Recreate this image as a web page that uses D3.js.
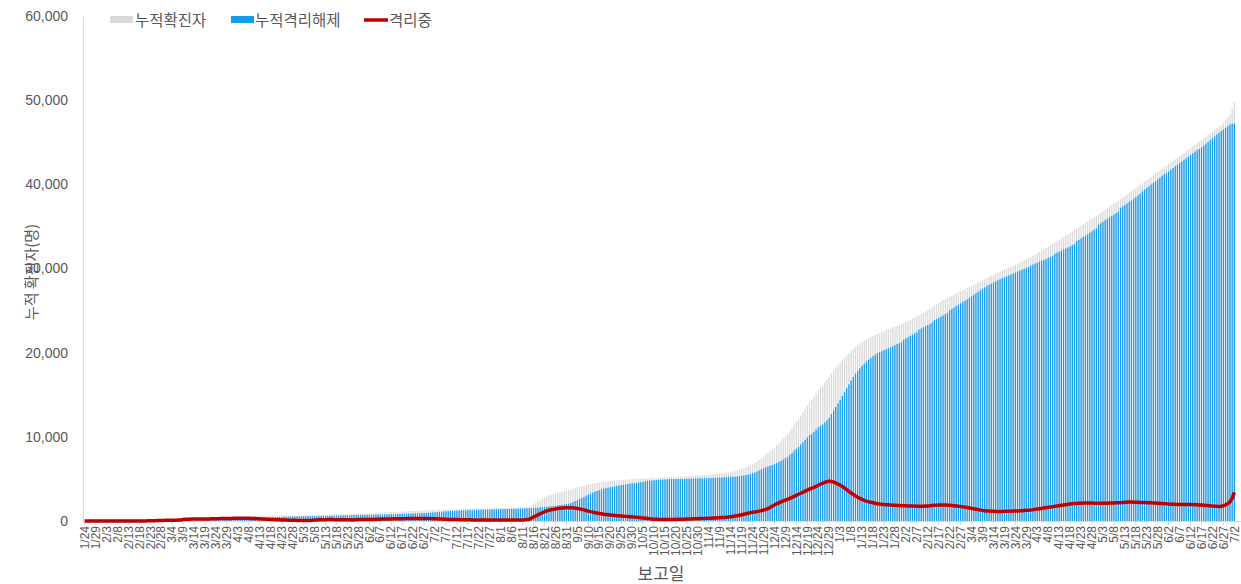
<!DOCTYPE html>
<html>
<head>
<meta charset="utf-8">
<script src="https://cdn.jsdelivr.net/npm/d3@7"></script>
<style>
  body { margin: 0; background: #fff; }
  svg { display: block; font-family: "Noto Sans CJK KR", "Noto Sans", sans-serif; }
</style>
</head>
<body>
<svg width="1241" height="584"></svg>
<script>
// daily categories 2020-01-24 .. 2021-07-02
const firstDay = new Date(2020, 0, 24);
const lastDay = new Date(2021, 6, 2);

// 누적확진자 (cumulative confirmed), one value per day
const confirmed = [
  1,1,1,1,1,3,4,5, // Jan 20
  6,7,7,7,8,9,10,10,10,10,11,11,11,11,12,12,13,14,14,15,17,21,27,35,44,51,60,70,78,
  87,91,98,103,108,116,129,141,193,225,246,252,265,270,278,287,297,310,320,324,334,347,356,372,390,410,426,435,445,450,474,
  490,513,528,552,563,567,573,580,587,595,601,604,607,610,613,616,619,620,622,623,625,627,627,628,628,629,631,632,633,633,
  634,635,637,637,638,650,670,692,715,740,749,759,767,775,782,788,793,798,800,805,810,815,820,825,830,845,865,880,890,900,905,
  915,925,935,945,965,975,990,1005,1020,1030,1045,1060,1075,1090,1105,1120,1135,1150,1165,1175,1185,1195,1205,1215,1225,1240,1255,1265,1280,1290,
  1300,1310,1320,1330,1340,1350,1360,1370,1380,1390,1400,1410,1418,1425,1430,1435,1440,1445,1450,1455,1460,1465,1470,1475,1480,1490,1500,1510,1520,1525,1530,
  1535,1540,1545,1550,1560,1570,1580,1590,1600,1610,1620,1640,1680,1730,1880,2030,2180,2330,2480,2620,2760,2900,3000,3090,3180,3270,3350,3420,3480,3540,3590,
  3650,3730,3820,3900,3980,4050,4120,4190,4260,4320,4380,4430,4480,4530,4580,4620,4660,4700,4730,4760,4790,4815,4840,4860,4880,4900,4925,4950,4970,4990,
  5000,5015,5030,5040,5050,5060,5070,5085,5100,5110,5120,5130,5140,5155,5170,5185,5200,5210,5220,5235,5250,5265,5280,5295,5310,5330,5350,5370,5390,5410,5430,
  5440,5460,5480,5500,5520,5540,5560,5590,5620,5650,5690,5730,5770,5820,5870,5930,6000,6080,6170,6280,6400,6520,6640,6770,6910,7070,7250,7440,7640,7850,
  8050,8250,8500,8750,9000,9250,9500,9800,10050,10300,10650,11000,11400,11750,12100,12500,12900,13300,13700,14100,14400,14750,15150,15550,15850,16100,16450,16800,17150,17550,17900,
  18250,18550,18850,19150,19450,19700,19950,20200,20450,20700,20900,21080,21250,21420,21580,21720,21860,21990,22120,22250,22360,22460,22560,22660,22760,22860,22960,23060,23160,23270,23380,
  23500,23640,23780,23920,24060,24200,24340,24480,24620,24760,24900,25050,25200,25400,25600,25750,25900,26050,26200,26340,26480,26620,26760,26900,27040,27180,27300,27420,
  27550,27680,27810,27940,28070,28200,28330,28460,28590,28720,28850,28980,29110,29240,29370,29500,29620,29740,29860,29980,30100,30220,30340,30460,30590,30720,30850,30980,31110,31240,31380,
  31530,31680,31830,31980,32130,32280,32430,32590,32750,32910,33070,33230,33390,33550,33720,33890,34060,34230,34400,34570,34740,34910,35080,35250,35420,35590,35760,35930,36100,36270,
  36450,36630,36810,36990,37170,37350,37530,37710,37890,38070,38250,38430,38610,38800,38990,39180,39370,39560,39750,39940,40130,40320,40510,40700,40890,41080,41270,41460,41650,41840,42030,
  42220,42410,42600,42790,42980,43170,43360,43550,43740,43930,44120,44310,44500,44690,44880,45070,45260,45450,45640,45830,46020,46220,46420,46620,46820,47050,47300,47600,47950,48350,
  48950,49700 // Jul 21
];

// 누적격리해제 (cumulative released)
const released = [
  0,0,0,0,0,0,0,0,
  0,0,0,1,1,1,1,1,2,2,2,3,3,4,4,4,4,4,5,5,5,5,5,5,5,5,5,6,6,
  7,8,10,13,15,17,19,21,23,27,31,34,39,42,48,53,59,65,72,78,84,92,98,106,114,122,130,137,145,155,164,
  174,186,198,212,228,242,253,265,282,295,311,329,347,365,383,401,419,435,452,463,477,489,501,513,522,531,541,548,555,561,
  562,567,571,575,578,580,582,584,586,588,592,597,603,608,614,621,631,638,648,655,663,673,680,688,698,703,708,713,718,723,731,
  733,739,745,751,756,761,766,771,776,786,796,806,816,826,836,846,856,866,876,886,896,906,911,921,931,941,951,966,986,1001,
  1014,1034,1059,1084,1109,1134,1154,1174,1194,1209,1224,1239,1252,1264,1274,1284,1294,1304,1314,1321,1329,1337,1344,1351,1358,1366,1374,1382,1390,1397,1404,
  1409,1416,1423,1430,1437,1444,1452,1460,1468,1476,1484,1492,1502,1512,1532,1552,1572,1592,1612,1630,1660,1690,1720,1750,1790,1828,1858,1888,1928,1966,2006,
  2055,2135,2245,2355,2475,2595,2725,2855,2995,3125,3245,3355,3465,3565,3665,3745,3825,3895,3955,4015,4065,4120,4175,4215,4255,4295,4340,4385,4425,4465,
  4485,4530,4575,4615,4655,4695,4735,4780,4815,4845,4860,4880,4900,4920,4937,4954,4967,4975,4980,4990,4990,5000,5005,5010,5015,5025,5035,5045,5055,5065,5075,
  5065,5075,5085,5095,5105,5115,5125,5140,5155,5165,5185,5200,5215,5235,5250,5270,5295,5325,5360,5405,5455,5515,5580,5655,5745,5865,5995,6125,6255,6385,
  6475,6555,6655,6755,6875,7005,7135,7325,7475,7625,7850,8080,8360,8580,8800,9080,9360,9640,9920,10200,10350,10590,10870,11140,11320,11470,11710,11960,12250,12690,13120,
  13550,13970,14400,14850,15330,15780,16230,16680,17100,17520,17820,18140,18430,18700,18950,19170,19380,19570,19760,19940,20040,20170,20290,20410,20530,20650,20770,20890,21010,21130,21250,
  21550,21700,21850,22000,22145,22290,22435,22730,22870,23010,23140,23280,23410,23580,23870,24000,24130,24270,24420,24570,24730,25040,25200,25360,25530,25700,25860,26020,
  26165,26335,26515,26695,26875,27055,27235,27415,27585,27745,27905,28055,28205,28345,28485,28605,28725,28845,28955,29075,29185,29295,29405,29515,29635,29755,29865,29975,30085,30195,30315,
  30470,30580,30690,30800,30910,31020,31130,31250,31370,31490,31760,31880,32000,32120,32250,32365,32495,32635,32775,32915,33265,33415,33575,33735,33895,34065,34235,34415,34595,34775,
  35205,35385,35565,35735,35905,36075,36245,36415,36585,36755,37225,37385,37545,37715,37895,38075,38275,38475,38675,38875,39175,39375,39575,39775,39975,40175,40385,40595,40805,41015,41225,
  41315,41525,41735,41935,42135,42335,42535,42725,42915,43105,43295,43485,43685,43885,44085,44195,44405,44615,44825,45035,45255,45475,45695,45915,46125,46325,46515,46715,46925,47125,
  47180,47230
];

// 격리중 (in isolation)
const isolated = [
  1,1,1,1,1,3,4,5,
  6,7,7,6,7,8,9,9,8,8,9,8,8,7,8,8,9,10,9,10,12,16,22,30,39,46,55,64,72,
  80,83,88,90,93,99,110,120,170,198,215,218,226,228,230,234,238,245,248,246,250,255,258,266,276,288,296,298,300,295,310,
  316,327,330,340,335,325,320,315,305,300,290,275,260,245,230,215,200,185,170,160,148,138,126,115,106,98,90,84,78,72,
  70,66,64,60,58,68,86,106,127,150,155,160,162,165,166,165,160,158,150,148,145,140,138,135,130,140,155,165,170,175,172,
  178,182,186,190,205,210,220,230,240,240,245,250,255,260,265,270,275,280,285,285,285,285,290,290,290,295,300,295,290,285,
  280,270,255,240,225,210,200,190,180,175,170,165,160,155,150,145,140,135,130,128,125,122,120,118,116,118,120,122,124,122,120,
  118,116,114,112,115,118,120,122,124,126,128,140,170,210,340,470,600,730,860,980,1090,1200,1270,1330,1380,1430,1480,1520,1540,1560,1570,
  1580,1580,1560,1530,1490,1440,1380,1320,1250,1180,1110,1050,990,940,890,850,810,780,750,720,690,660,630,610,590,570,550,530,510,490,
  470,440,410,380,350,320,290,260,240,220,205,195,185,180,178,176,178,180,185,190,195,200,210,220,230,240,250,260,270,280,290,
  300,310,320,330,340,350,360,375,390,410,430,455,480,510,545,585,630,680,735,800,860,920,975,1030,1080,1120,1170,1230,1300,1380,
  1480,1600,1750,1900,2030,2150,2270,2380,2480,2580,2680,2800,2920,3050,3180,3300,3420,3540,3660,3780,3890,4000,4120,4250,4370,4470,4580,4680,4740,4700,4620,
  4500,4380,4250,4100,3920,3720,3520,3320,3150,2980,2820,2680,2560,2460,2370,2290,2220,2160,2100,2050,2010,1980,1960,1940,1920,1900,1880,1860,1840,1830,1820,
  1810,1800,1790,1780,1775,1770,1765,1760,1760,1760,1770,1780,1800,1830,1860,1880,1900,1910,1910,1900,1880,1860,1840,1820,1790,1760,1720,1680,
  1640,1600,1550,1500,1450,1400,1350,1300,1260,1230,1200,1180,1160,1150,1140,1140,1140,1140,1150,1150,1160,1170,1180,1190,1200,1210,1230,1250,1270,1290,1310,
  1340,1380,1420,1460,1500,1540,1580,1620,1660,1700,1740,1780,1820,1860,1900,1940,1980,2010,2040,2070,2090,2110,2120,2130,2140,2140,2140,2130,2120,2110,
  2100,2100,2100,2110,2120,2130,2140,2150,2160,2170,2180,2200,2220,2240,2250,2250,2240,2230,2220,2210,2200,2190,2180,2170,2160,2150,2130,2110,2090,2070,2050,
  2040,2020,2000,1990,1980,1970,1960,1960,1960,1960,1960,1960,1950,1940,1930,1910,1890,1870,1850,1830,1800,1780,1760,1740,1730,1760,1820,1920,2060,2260,
  2700,3400
];

const yTicks = [0, 10000, 20000, 30000, 40000, 50000, 60000];
const legendItems = ["누적확진자", "누적격리해제", "격리중"];

const days = d3.timeDay.range(firstDay, d3.timeDay.offset(lastDay, 1));
const keyFmt = d3.timeFormat("%Y-%m-%d");
const labelFmt = d3.timeFormat("%-m/%-d");
const data = days.map((d, i) => ({ key: keyFmt(d), c: confirmed[i], r: released[i], q: isolated[i] }));

const svg = d3.select("svg");
const textColor = "#595959";
const axisColor = "#d9d9d9";

const x = d3.scaleBand().domain(data.map(d => d.key)).range([84, 1235]).paddingInner(0.42);
const y = d3.scaleLinear().domain([0, 60000]).range([521, 16]);
const xc = k => x(k) + x.bandwidth() / 2;

// grey bars behind
svg.append("g").selectAll("rect").data(data).join("rect")
  .attr("x", d => x(d.key))
  .attr("width", x.bandwidth())
  .attr("y", d => y(d.c))
  .attr("height", d => y(0) - y(d.c))
  .attr("fill", "#d9d9d9");

// blue bars in front
svg.append("g").selectAll("rect").data(data).join("rect")
  .attr("x", d => x(d.key))
  .attr("width", x.bandwidth())
  .attr("y", d => y(d.r))
  .attr("height", d => y(0) - y(d.r))
  .attr("fill", "#129cec");

// y axis
const yAxis = svg.append("g")
  .attr("transform", "translate(83,0)")
  .call(d3.axisLeft(y).tickValues(yTicks).tickFormat(d3.format(",")).tickSize(0).tickPadding(15));
yAxis.select(".domain").attr("stroke", axisColor);
yAxis.selectAll("text").attr("fill", textColor).style("font-size", "14px").style("font-family", "inherit");

// x axis, a label every 5th day
const tickKeys = data.filter((d, i) => i % 5 === 0).map(d => d.key);
const xAxis = svg.append("g")
  .attr("transform", "translate(0,521)")
  .call(d3.axisBottom(x).tickValues(tickKeys)
    .tickFormat(k => labelFmt(d3.timeParse("%Y-%m-%d")(k)))
    .tickSize(4).tickSizeOuter(0));
xAxis.select(".domain").attr("stroke", axisColor).attr("d", "M83,0.5H1241");
xAxis.selectAll(".tick line").attr("stroke", axisColor);
xAxis.selectAll("text")
  .attr("fill", textColor)
  .style("font-size", "12px")
  .style("font-family", "inherit")
  .attr("text-anchor", "end")
  .attr("transform", "rotate(-90)")
  .attr("x", -5)
  .attr("y", 0)
  .attr("dy", "0.35em");

// isolation line
const line = d3.line().x(d => xc(d.key)).y(d => y(d.q));
svg.append("path")
  .datum(data)
  .attr("d", line)
  .attr("fill", "none")
  .attr("stroke", "#c00000")
  .attr("stroke-width", 3.5)
  .attr("stroke-linejoin", "round");

// axis titles
svg.append("text")
  .attr("transform", "translate(37,272) rotate(-90)")
  .attr("text-anchor", "middle")
  .attr("fill", textColor)
  .style("font-size", "15px")
  .text("누적 확진자(명)");

svg.append("text")
  .attr("x", 661)
  .attr("y", 580)
  .attr("text-anchor", "middle")
  .attr("fill", textColor)
  .style("font-size", "17px")
  .text("보고일");

// legend
const legend = svg.append("g");
legend.append("rect").attr("x", 110).attr("y", 16).attr("width", 23).attr("height", 7).attr("fill", "#d9d9d9");
legend.append("rect").attr("x", 231).attr("y", 16).attr("width", 23).attr("height", 7).attr("fill", "#129cec");
legend.append("line").attr("x1", 364).attr("x2", 388).attr("y1", 20).attr("y2", 20)
  .attr("stroke", "#c00000").attr("stroke-width", 3.5);
[[135, legendItems[0]], [255, legendItems[1]], [389, legendItems[2]]].forEach(([lx, t]) => {
  legend.append("text").attr("x", lx).attr("y", 26)
    .attr("fill", textColor).style("font-size", "15.5px").text(t);
});
</script>
</body>
</html>
